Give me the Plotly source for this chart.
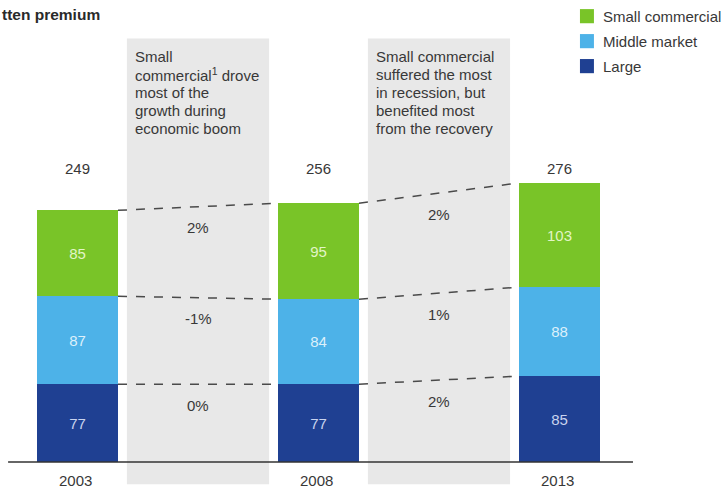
import plotly.graph_objects as go

# Gross written premium by customer segment, $ billion
years = ["2003", "2008", "2013"]
large = [77, 77, 85]
middle = [87, 84, 88]
small = [85, 95, 103]
totals = [249, 256, 276]

# Compound annual growth between the snapshot years, per segment
growth_small = ["2%", "2%"]
growth_middle = ["-1%", "1%"]
growth_large = ["0%", "2%"]

panel_notes = [
    ["Small", "commercial<sup>1</sup> drove", "most of the", "growth during", "economic boom"],
    ["Small commercial", "suffered the most", "in recession, but", "benefited most", "from the recovery"],
]

series_names = ["Large", "Middle market", "Small commercial"]
colors = ["#1f4092", "#4db2e8", "#79c428"]
label_colors = ["#c9d3ee", "#dcf0fb", "#e2f5c6"]

FONT = "Liberation Sans, Arial, sans-serif"
TEXT = "#383838"
BAR_W = 0.336
xs = [0, 1, 2]

fig = go.Figure()

for name, vals, col, lcol in zip(series_names, [large, middle, small], colors, label_colors):
    fig.add_trace(go.Bar(
        x=xs, y=vals, name=name, width=BAR_W,
        marker=dict(color=col, line=dict(width=0)),
        text=[str(v) for v in vals], textposition="inside",
        insidetextanchor="middle",
        textfont=dict(family=FONT, size=15, color=lcol),
        showlegend=False, hoverinfo="skip",
    ))

shapes = []
annotations = []

# Grey commentary panels between the bars
for i in range(2):
    shapes.append(dict(type="rect", xref="x", yref="y",
                       x0=i + 0.205, x1=i + 0.795, y0=-22, y1=419,
                       fillcolor="#e8e8e8", line=dict(width=0), layer="below"))
    for j, line in enumerate(panel_notes[i]):
        annotations.append(dict(
            x=i + 0.23, y=401.5 - j * 17.8, xref="x", yref="y",
            text=line, showarrow=False, xanchor="left", yanchor="middle",
            font=dict(family=FONT, size=15, color=TEXT)))

# Baseline
shapes.append(dict(type="line", xref="x", yref="y", x0=-0.288, x1=2.305, y0=0, y1=0,
                   line=dict(color="#333333", width=1.5)))

# Dashed connectors between segment tops and growth labels
tops_large = large
tops_middle = [l + m for l, m in zip(large, middle)]
tops_total = totals
for tops, labels in [(tops_total, growth_small), (tops_middle, growth_middle), (tops_large, growth_large)]:
    for i in range(2):
        shapes.append(dict(type="line", xref="x", yref="y",
                           x0=i + BAR_W / 2, x1=i + 1 - BAR_W / 2,
                           y0=tops[i], y1=tops[i + 1],
                           line=dict(color="#4a4a4a", width=1.5, dash="dash")))
        annotations.append(dict(
            x=i + 0.5, y=(tops[i] + tops[i + 1]) / 2, xref="x", yref="y",
            text=labels[i], showarrow=False, yshift=-21,
            font=dict(family=FONT, size=15, color=TEXT)))

# Totals above bars and year labels below the baseline
for x, t, yr in zip(xs, totals, years):
    annotations.append(dict(x=x, y=290, xref="x", yref="y", text=str(t), showarrow=False,
                            font=dict(family=FONT, size=15, color=TEXT)))
    annotations.append(dict(x=x - 0.01, y=-18.5, xref="x", yref="y", text=yr, showarrow=False,
                            font=dict(family=FONT, size=15, color=TEXT)))

# Title (runs off the left edge)
annotations.append(dict(x=-0.3216, y=457 - 14, xref="x", yref="y", text="<b>tten premium</b>",
                        showarrow=False, xanchor="left", yanchor="middle",
                        font=dict(family=FONT, size=15.5, color="#2a2a2a")))

# Legend
for k, (name, col) in enumerate(zip(series_names[::-1], colors[::-1])):
    cy = 441 - k * 24.7
    shapes.append(dict(type="rect", xref="x", yref="y",
                       x0=2.085, x1=2.143, y0=cy - 7, y1=cy + 7,
                       fillcolor=col, line=dict(width=0)))
    annotations.append(dict(x=2.173, y=cy, xref="x", yref="y", text=name, showarrow=False,
                            xanchor="left", yanchor="middle",
                            font=dict(family=FONT, size=15, color=TEXT)))

fig.update_layout(
    barmode="stack",
    width=726, height=494,
    margin=dict(l=0, r=0, t=0, b=0),
    paper_bgcolor="white", plot_bgcolor="white",
    xaxis=dict(range=[-0.3216, 2.691], visible=False, fixedrange=True),
    yaxis=dict(range=[-31.65, 457], visible=False, fixedrange=True),
    shapes=shapes, annotations=annotations,
    showlegend=False,
)

fig.write_html("out.html")
